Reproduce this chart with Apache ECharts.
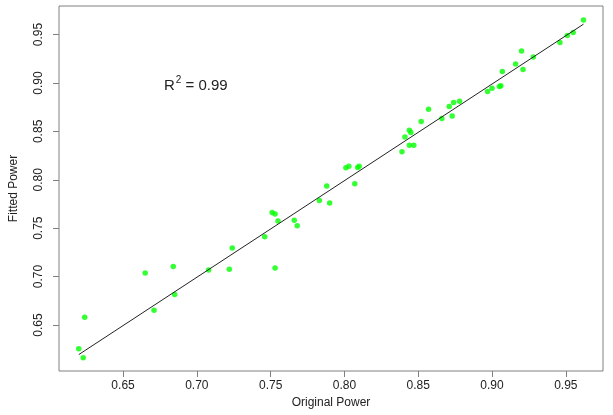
<!DOCTYPE html>
<html>
<head>
<meta charset="utf-8">
<script src="https://cdn.jsdelivr.net/npm/echarts@6/dist/echarts.min.js"></script>
<style>
html,body{margin:0;padding:0;background:#fff;}
#chart{width:613px;height:415px;}
</style>
</head>
<body>
<div id="chart"></div>
<script>
// Data
var originalPower = [0.620, 0.623, 0.624, 0.665, 0.671, 0.684, 0.685, 0.708, 0.722, 0.724,
  0.746, 0.753, 0.751, 0.753, 0.755, 0.766, 0.768, 0.783, 0.790, 0.788,
  0.807, 0.801, 0.803, 0.809, 0.810, 0.839, 0.844, 0.847, 0.841, 0.844,
  0.845, 0.852, 0.857, 0.866, 0.871, 0.873, 0.874, 0.878, 0.897, 0.900,
  0.905, 0.906, 0.907, 0.916, 0.920, 0.921, 0.928, 0.946, 0.951, 0.955, 0.962];
var fittedPower = [0.6255, 0.6163, 0.658, 0.7037, 0.6652, 0.7104, 0.6815, 0.7068, 0.7075, 0.7295,
  0.7411, 0.7088, 0.7661, 0.7646, 0.7575, 0.7582, 0.7525, 0.7785, 0.7759, 0.7937,
  0.796, 0.8125, 0.8139, 0.8127, 0.8139, 0.8289, 0.8358, 0.8358, 0.8442, 0.8512,
  0.8489, 0.8602, 0.8729, 0.8633, 0.8758, 0.8659, 0.8798, 0.8812, 0.8912, 0.8946,
  0.8963, 0.8972, 0.9118, 0.9197, 0.9331, 0.9139, 0.9269, 0.9417, 0.949, 0.9521, 0.9651];
var fitSlope = 0.998;
var fitIntercept = 0.0007;
var tickValues = [0.65, 0.70, 0.75, 0.80, 0.85, 0.90, 0.95];
var tickLabels = ['0.65', '0.70', '0.75', '0.80', '0.85', '0.90', '0.95'];
var xTitle = 'Original Power';
var yTitle = 'Fitted Power';
var r2Value = '0.99';

var points = originalPower.map(function (x, i) { return [x, fittedPower[i]]; });
var xMinData = Math.min.apply(null, originalPower);
var xMaxData = Math.max.apply(null, originalPower);
var fitLine = [[xMinData, fitIntercept + fitSlope * xMinData], [xMaxData, fitIntercept + fitSlope * xMaxData]];

function labelFmt(v) {
  var idx = tickValues.findIndex(function (t) { return Math.abs(t - v) < 1e-9; });
  return idx >= 0 ? tickLabels[idx] : v.toFixed(2);
}

var FONT = 'Liberation Sans, Arial, Helvetica, sans-serif';
var chart = echarts.init(document.getElementById('chart'), null, {renderer: 'canvas'});
chart.setOption({
  backgroundColor: '#ffffff',
  animation: false,
  grid: {left: 54, right: 10, top: 6, bottom: 44, show: true, borderColor: '#808080', borderWidth: 1, backgroundColor: 'transparent'},
  xAxis: {
    type: 'value', min: 0.6066, max: 0.9752,
    name: xTitle, nameLocation: 'middle', nameGap: 24,
    nameTextStyle: {fontFamily: FONT, fontSize: 12, color: '#222'},
    axisLine: {show: false},
    splitLine: {show: false},
    axisTick: {show: true, inside: false, length: 6, lineStyle: {color: '#808080'}, customValues: tickValues},
    axisLabel: {show: true, margin: 9, fontFamily: FONT, fontSize: 12, color: '#222', customValues: tickValues, formatter: labelFmt}
  },
  yAxis: {
    type: 'value', min: 0.6025, max: 0.9795,
    name: yTitle, nameLocation: 'middle', nameGap: 39, nameRotate: 90,
    nameTextStyle: {fontFamily: FONT, fontSize: 12, color: '#222'},
    axisLine: {show: false},
    splitLine: {show: false},
    axisTick: {show: true, inside: false, length: 6, lineStyle: {color: '#808080'}, customValues: tickValues},
    axisLabel: {show: true, rotate: 90, margin: 14, fontFamily: FONT, fontSize: 12, color: '#222', customValues: tickValues, formatter: labelFmt}
  },
  series: [
    {
      type: 'scatter', name: 'Power', data: points, symbol: 'circle', symbolSize: 5.5,
      itemStyle: {color: '#00ff00'}, z: 2
    },
    {
      type: 'line', name: 'Fit', data: fitLine, showSymbol: false, symbol: 'none',
      lineStyle: {color: '#222', width: 1}, z: 3, silent: true
    }
  ],
  graphic: [{
    type: 'text', left: 164, top: 75, z: 10,
    style: {
      text: '{r|R}{s|2}{r| = ' + r2Value + '}',
      rich: {
        r: {fontFamily: FONT, fontSize: 15, fill: '#222', verticalAlign: 'bottom'},
        s: {fontFamily: FONT, fontSize: 10, fill: '#222', verticalAlign: 'top', padding: [0, 0, 8, 1]}
      }
    }
  }]
});
</script>
</body>
</html>
